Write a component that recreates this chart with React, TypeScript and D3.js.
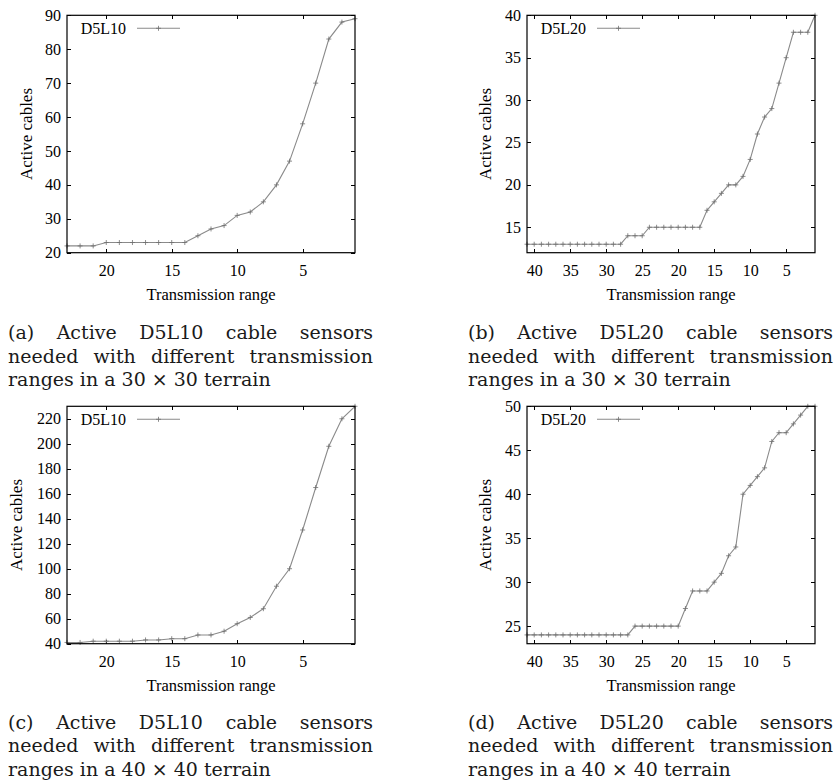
import React, { useEffect, useRef } from 'react';
import * as d3 from 'd3';

// transmission ranges (x), read right-to-left on the plots
const rangeSmall = [23, 22, 21, 20, 19, 18, 17, 16, 15, 14, 13, 12, 11, 10, 9, 8, 7, 6, 5, 4, 3, 2, 1];
const rangeLarge = [
  41, 40, 39, 38, 37, 36, 35, 34, 33, 32, 31, 30, 29, 28, 27, 26, 25, 24, 23, 22, 21,
  20, 19, 18, 17, 16, 15, 14, 13, 12, 11, 10, 9, 8, 7, 6, 5, 4, 3, 2, 1,
];

// active cables
const cablesA = [22, 22, 22, 23, 23, 23, 23, 23, 23, 23, 25, 27, 28, 31, 32, 35, 40, 47, 58, 70, 83, 88, 89];
const cablesB = [
  13, 13, 13, 13, 13, 13, 13, 13, 13, 13, 13, 13, 13, 13, 14, 14, 14, 15, 15, 15, 15,
  15, 15, 15, 15, 17, 18, 19, 20, 20, 21, 23, 26, 28, 29, 32, 35, 38, 38, 38, 40,
];
const cablesC = [41, 41, 42, 42, 42, 42, 43, 43, 44, 44, 47, 47, 50, 56, 61, 68, 86, 100, 131, 165, 198, 220, 230];
const cablesD = [
  24, 24, 24, 24, 24, 24, 24, 24, 24, 24, 24, 24, 24, 24, 24, 25, 25, 25, 25, 25, 25,
  25, 27, 29, 29, 29, 30, 31, 33, 34, 40, 41, 42, 43, 46, 47, 47, 48, 49, 50, 50,
];

// ticks
const xTicksSmall = [20, 15, 10, 5];
const xTicksLarge = [40, 35, 30, 25, 20, 15, 10, 5];
const yTicksA = [20, 30, 40, 50, 60, 70, 80, 90];
const yTicksB = [15, 20, 25, 30, 35, 40];
const yTicksC = [40, 60, 80, 100, 120, 140, 160, 180, 200, 220];
const yTicksD = [25, 30, 35, 40, 45, 50];

// captions
const captionA = [
  ['(a)', 'Active', 'D5L10', 'cable', 'sensors'],
  ['needed', 'with', 'different', 'transmission'],
  ['ranges in a 30 × 30 terrain'],
];
const captionB = [
  ['(b)', 'Active', 'D5L20', 'cable', 'sensors'],
  ['needed', 'with', 'different', 'transmission'],
  ['ranges in a 30 × 30 terrain'],
];
const captionC = [
  ['(c)', 'Active', 'D5L10', 'cable', 'sensors'],
  ['needed', 'with', 'different', 'transmission'],
  ['ranges in a 40 × 40 terrain'],
];
const captionD = [
  ['(d)', 'Active', 'D5L20', 'cable', 'sensors'],
  ['needed', 'with', 'different', 'transmission'],
  ['ranges in a 40 × 40 terrain'],
];

const W = 288;
const H = 237.4;
const FONT = '"Liberation Serif", "Times New Roman", serif';
const CAP_FONT = '"DejaVu Serif", serif';
const LINE_COLOR = '#8a8a8a';

const panels = [
  { xs: rangeSmall, ys: cablesA, yDomain: [20, 90], yTicks: yTicksA, xTicks: xTicksSmall, left: 67, top: 15.3, name: 'D5L10', ylabOff: 41, capY: 339, caption: captionA },
  { xs: rangeLarge, ys: cablesB, yDomain: [12, 40], yTicks: yTicksB, xTicks: xTicksLarge, left: 527, top: 15.3, name: 'D5L20', ylabOff: 41.5, capY: 339, caption: captionB },
  { xs: rangeSmall, ys: cablesC, yDomain: [40, 230], yTicks: yTicksC, xTicks: xTicksSmall, left: 67, top: 406.3, name: 'D5L10', ylabOff: 50.5, capY: 728.5, caption: captionC },
  { xs: rangeLarge, ys: cablesD, yDomain: [23, 50], yTicks: yTicksD, xTicks: xTicksLarge, left: 527, top: 406.3, name: 'D5L20', ylabOff: 41.5, capY: 728.5, caption: captionD },
];

const App = () => {
  const ref = useRef(null);

  useEffect(() => {
    const svg = d3.select(ref.current);
    svg.selectAll('*').remove();

    const styleAxis = (g) => {
      g.select('.domain').remove();
      g.attr('font-family', FONT).attr('font-size', 16);
      g.selectAll('line').attr('stroke', '#000').attr('shape-rendering', 'crispEdges');
    };

    panels.forEach((p) => {
      const g = svg.append('g');
      const x = d3.scaleLinear().domain([p.xs[0], p.xs[p.xs.length - 1]]).range([p.left, p.left + W]);
      const y = d3.scaleLinear().domain(p.yDomain).range([p.top + H, p.top]);
      const bottom = p.top + H;
      const right = p.left + W;

      // axes with inward ticks (mirrored on top/right)
      g.append('g')
        .attr('transform', `translate(${p.left},0)`)
        .call(d3.axisLeft(y).tickValues(p.yTicks).tickSize(-4).tickPadding(6).tickFormat(d3.format('d')))
        .call(styleAxis);
      g.append('g')
        .attr('transform', `translate(${right},0)`)
        .call(d3.axisRight(y).tickValues(p.yTicks).tickSize(-4).tickFormat(() => ''))
        .call(styleAxis);
      g.append('g')
        .attr('transform', `translate(0,${bottom})`)
        .call(d3.axisBottom(x).tickValues(p.xTicks).tickSize(-4).tickPadding(12).tickFormat(d3.format('d')))
        .call(styleAxis);
      g.append('g')
        .attr('transform', `translate(0,${p.top})`)
        .call(d3.axisTop(x).tickValues(p.xTicks).tickSize(-4).tickFormat(() => ''))
        .call(styleAxis);

      // axis titles
      g.append('text')
        .attr('x', p.left + W / 2)
        .attr('y', bottom + 47)
        .attr('text-anchor', 'middle')
        .attr('font-family', FONT)
        .attr('font-size', 16.5)
        .text('Transmission range');
      g.append('text')
        .attr('transform', `translate(${p.left - p.ylabOff},${p.top + H / 2}) rotate(-90)`)
        .attr('dy', '0.35em')
        .attr('text-anchor', 'middle')
        .attr('font-family', FONT)
        .attr('font-size', 17)
        .text('Active cables');

      // data line
      const pts = p.xs.map((xv, i) => [x(xv), y(p.ys[i])]);
      g.append('path')
        .attr('d', d3.line()(pts))
        .attr('fill', 'none')
        .attr('stroke', LINE_COLOR)
        .attr('stroke-width', 1.1);
      g.append('path')
        .attr('d', pts.map(([px, py]) => `M${px - 2.5},${py}h5M${px},${py - 2.5}v5`).join(''))
        .attr('stroke', '#707070')
        .attr('stroke-width', 0.8)
        .attr('fill', 'none');

      // frame
      g.append('rect')
        .attr('x', p.left)
        .attr('y', p.top)
        .attr('width', W)
        .attr('height', H)
        .attr('fill', 'none')
        .attr('stroke', '#000')
        .attr('stroke-width', 1.2);

      // legend
      const ly = p.top + 13;
      g.append('text')
        .attr('x', p.left + 59)
        .attr('y', ly + 6)
        .attr('text-anchor', 'end')
        .attr('font-family', FONT)
        .attr('font-size', 16)
        .text(p.name);
      g.append('line')
        .attr('x1', p.left + 70)
        .attr('x2', p.left + 113)
        .attr('y1', ly)
        .attr('y2', ly)
        .attr('stroke', LINE_COLOR)
        .attr('stroke-width', 1.1);
      const mx = p.left + 91.5;
      g.append('path')
        .attr('d', `M${mx - 2.5},${ly}h5M${mx},${ly - 2.5}v5`)
        .attr('stroke', '#707070')
        .attr('stroke-width', 0.8);

      // caption, justified like LaTeX
      const cx0 = p.left - 59;
      const cx1 = p.left + 306;
      const cap = g.append('g').attr('font-family', CAP_FONT).attr('font-size', 19).attr('fill', '#1a1a1a');
      p.caption.forEach((words, li) => {
        const yy = p.capY + li * 23.5;
        const last = li === p.caption.length - 1;
        const texts = words.map((w) => cap.append('text').attr('y', yy).text(w));
        const widths = texts.map((t) => t.node().getComputedTextLength());
        const total = d3.sum(widths);
        const gap = last || words.length < 2 ? 6 : (cx1 - cx0 - total) / (words.length - 1);
        let cur = cx0;
        texts.forEach((t, i) => {
          t.attr('x', cur);
          cur += widths[i] + gap;
        });
      });
    });
  }, []);

  return (
    <svg
      ref={ref}
      width={835}
      height={780}
      style={{ position: 'absolute', left: 0, top: 0, background: '#fff' }}
    />
  );
};

export default App;
